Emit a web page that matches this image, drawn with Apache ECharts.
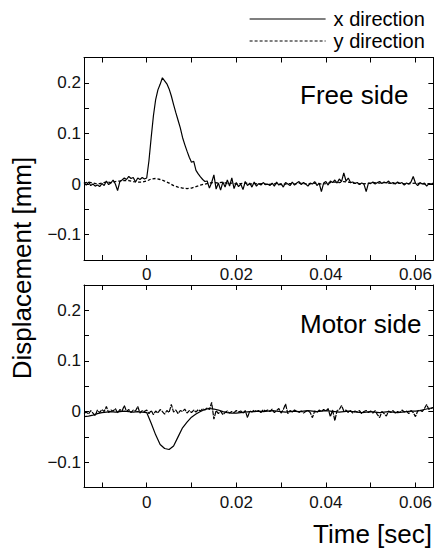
<!DOCTYPE html>
<html>
<head>
<meta charset="utf-8">
<script src="https://cdn.jsdelivr.net/npm/echarts@6/dist/echarts.min.js"></script>
<style>
html,body{margin:0;padding:0;background:#fff;}
#chart{width:435px;height:553px;}
</style>
</head>
<body>
<div id="chart"></div>
<script>
// ---- data (time in seconds, displacement in mm) ----
var timeFine = [
-0.014,-0.0135,-0.013,-0.0125,-0.012,-0.0115,-0.011,-0.0105,-0.01,-0.0095,
-0.009,-0.0085,-0.008,-0.0075,-0.007,-0.0065,-0.006,-0.0055,-0.005,-0.0045,
-0.004,-0.0035,-0.003,-0.0025,-0.002,-0.0015,-0.001,-0.0005,0,0.0005,
0.001,0.0015,0.002,0.0025,0.003,0.0035,0.004,0.0045,0.005,0.0055,
0.006,0.0065,0.007,0.0075,0.008,0.0085,0.009,0.0095,0.01,0.0105,
0.011,0.0115,0.012,0.0125,0.013,0.0135,0.014,0.0145,0.015,0.0155,
0.016,0.0165,0.017,0.0175,0.018,0.0185,0.019,0.0195,0.02,0.0205,
0.021,0.0215,0.022,0.0225,0.023,0.0235,0.024,0.0245,0.025,0.0255,
0.026,0.0265,0.027,0.0275,0.028,0.0285,0.029,0.0295,0.03,0.0305,
0.031,0.0315,0.032,0.0325,0.033,0.0335,0.034,0.0345,0.035,0.0355,
0.036,0.0365,0.037,0.0375,0.038,0.0385,0.039,0.0395,0.04,0.0405,
0.041,0.0415,0.042,0.0425,0.043,0.0435,0.044,0.0445,0.045,0.0455,
0.046,0.0465,0.047,0.0475,0.048,0.0485,0.049,0.0495,0.05,0.0505,
0.051,0.0515,0.052,0.0525,0.053,0.0535,0.054,0.0545,0.055,0.0555,
0.056,0.0565,0.057,0.0575,0.058,0.0585,0.059,0.0595,0.06,0.0605,
0.061,0.0615,0.062,0.0625,0.063,0.0635,0.064
];
var timeCoarse = [
-0.014,-0.013,-0.012,-0.011,-0.01,-0.009,-0.008,-0.007,-0.006,-0.005,
-0.004,-0.003,-0.002,-0.001,0,0.001,0.002,0.003,0.004,0.005,
0.006,0.007,0.008,0.009,0.01,0.011,0.012,0.013,0.014,0.015,
0.016,0.017,0.018,0.019,0.02,0.021,0.022,0.023,0.024,0.025,
0.026,0.027,0.028,0.029,0.03,0.031,0.032,0.033,0.034,0.035,
0.036,0.037,0.038,0.039,0.04,0.041,0.042,0.043,0.044,0.045,
0.046,0.047,0.048,0.049,0.05,0.051,0.052,0.053,0.054,0.055,
0.056,0.057,0.058,0.059,0.06,0.061,0.062,0.063,0.064
];
// Free side, x direction (fine sampling)
var freeX = [
0.003,-0.002,0.004,-0.003,0.000,-0.004,-0.002,-0.005,0.001,-0.003,
0.006,-0.001,0.002,0.008,0.000,-0.013,0.005,0.008,0.012,0.009,
0.015,0.011,0.013,0.004,0.012,0.009,0.013,0.010,0.012,0.046,
0.092,0.135,0.167,0.186,0.197,0.210,0.204,0.198,0.188,0.174,
0.157,0.141,0.126,0.111,0.092,0.078,0.065,0.053,0.043,0.045,
0.027,0.020,0.014,0.009,0.005,0.006,-0.008,0.003,0.018,-0.010,
0.002,-0.012,0.004,-0.006,0.008,-0.004,0.012,-0.009,0.003,-0.005,
0.000,-0.011,0.005,-0.003,0.002,-0.006,0.004,-0.004,0.001,-0.002,
0.003,-0.001,0.000,-0.003,0.002,-0.004,0.004,-0.002,0.001,-0.006,
0.003,0.000,-0.003,0.004,-0.002,0.002,0.005,-0.001,0.003,0.000,
-0.004,0.002,0.000,0.005,-0.003,0.002,-0.015,0.002,0.005,-0.002,
0.006,0.003,0.008,0.002,0.010,0.005,0.022,0.006,0.012,0.003,
0.004,0.001,0.003,-0.001,0.002,0.000,-0.015,0.002,0.001,0.004,
0.000,0.003,0.005,0.001,0.004,0.002,0.006,0.001,0.003,0.000,
0.004,0.001,0.003,-0.002,0.002,0.000,0.004,0.015,0.002,-0.003,
0.003,0.000,0.002,-0.004,0.001,0.000,0.002
];
// Free side, y direction (coarse sampling)
var freeY = [
0.002,0.004,0.002,0.000,0.002,0.004,0.003,0.005,0.006,0.007,
0.007,0.005,0.004,0.004,0.006,0.010,0.011,0.009,0.006,0.002,
-0.003,-0.006,-0.008,-0.009,-0.008,-0.005,-0.002,0.000,0.002,0.003,
0.002,0.004,0.001,0.002,0.000,0.001,0.002,0.000,0.001,0.000,
0.001,-0.001,0.000,0.001,-0.001,0.000,0.001,0.000,0.002,0.001,
0.000,0.001,0.002,0.000,0.001,0.003,0.004,0.003,0.005,0.004,
0.002,0.001,0.000,0.001,0.002,0.003,0.002,0.003,0.002,0.001,
0.002,0.001,0.000,0.001,0.002,0.001,0.000,0.001,0.001
];
// Motor side, x direction (coarse sampling)
var motorX = [
-0.010,-0.009,-0.007,-0.004,-0.002,-0.001,0.000,-0.001,0.000,0.001,
0.000,-0.001,0.000,-0.001,-0.002,-0.023,-0.046,-0.065,-0.073,-0.075,
-0.068,-0.050,-0.032,-0.021,-0.011,-0.005,0.000,0.004,0.006,0.005,
0.003,0.000,-0.002,-0.003,-0.003,-0.002,-0.001,0.000,0.000,0.001,
0.000,0.001,0.002,0.001,0.000,-0.001,0.000,0.001,0.000,0.001,
0.002,0.001,0.000,0.001,0.002,0.001,0.000,-0.001,0.000,0.001,
0.000,-0.001,-0.002,-0.001,0.000,-0.001,-0.002,-0.001,0.000,-0.001,
-0.002,-0.001,0.000,0.001,0.001,0.002,0.004,0.006,0.008
];
// Motor side, y direction (fine sampling)
var motorY = [
-0.004,-0.001,-0.005,0.002,-0.003,-0.008,0.003,-0.002,0.004,0.000,
0.010,-0.002,0.003,0.001,0.006,-0.003,0.004,0.001,0.012,0.000,
0.004,-0.002,0.003,0.001,0.010,-0.003,0.002,0.000,0.003,-0.004,
0.002,-0.006,0.001,-0.003,0.004,0.000,-0.005,0.002,-0.002,0.014,
-0.001,0.003,-0.004,0.002,0.000,0.005,-0.003,0.002,-0.002,0.003,
-0.001,0.004,0.001,0.006,0.003,0.008,0.004,0.018,-0.015,0.002,
-0.004,0.001,-0.006,-0.002,0.001,-0.003,0.000,-0.002,0.002,-0.001,
0.001,-0.003,0.002,-0.012,0.001,-0.001,0.003,0.000,0.002,-0.002,
0.004,0.001,0.003,0.000,0.005,-0.002,0.002,0.006,-0.003,0.004,
0.015,-0.004,0.002,-0.001,0.003,0.000,-0.002,0.001,-0.003,0.000,
0.002,-0.002,-0.012,0.001,-0.002,0.003,0.000,0.004,0.001,0.006,
-0.010,0.003,-0.018,0.002,0.004,0.012,0.001,0.003,-0.002,0.002,
-0.003,0.001,-0.001,0.002,-0.004,0.000,0.002,-0.002,0.001,-0.003,
0.002,-0.006,-0.012,0.000,-0.004,-0.009,0.001,-0.002,0.002,-0.003,
0.000,-0.002,0.003,-0.001,0.001,-0.004,0.002,-0.002,-0.010,0.001,
0.003,0.000,0.006,0.014,0.004,0.006,0.008
];
var xTickValues = [-0.01,0,0.01,0.02,0.03,0.04,0.05,0.06];
var xLabelValues = [0,0.02,0.04,0.06];
var yLabelValues = [-0.1,0,0.1,0.2];
var panelTitles = ['Free side','Motor side'];
var seriesNames = ['x direction','y direction'];

function pairs(ts, vs){ return ts.map(function(t,i){ return [t, vs[i]]; }); }

var FONT = '"Liberation Sans", Arial, sans-serif';
var INK = '#000';

function xAxisDef(gridIndex, pos, showLabel){
  return {
    type:'value', gridIndex:gridIndex, position:pos,
    min:-0.014, max:0.064,
    axisLine:{show:true, onZero:false, lineStyle:{color:INK, width:1}},
    axisTick:{show:true, inside:true, length:5, customValues:xTickValues, lineStyle:{color:INK, width:1}},
    axisLabel:{show:showLabel, customValues:xLabelValues, margin:6, color:'#111', fontSize:17, fontFamily:FONT,
      formatter:function(v){ return v===0 ? '0' : String(+v.toFixed(2)); }},
    splitLine:{show:false}
  };
}
function yAxisDef(gridIndex, pos, showLabel){
  return {
    type:'value', gridIndex:gridIndex, position:pos,
    min:-0.15, max:0.25, interval:0.05,
    axisLine:{show:true, onZero:false, lineStyle:{color:INK, width:1}},
    axisTick:{show:true, inside:true, length:5, lineStyle:{color:INK, width:1}},
    axisLabel:{show:showLabel, customValues:yLabelValues, margin:3, color:'#111', fontSize:17, fontFamily:FONT,
      formatter:function(v){ var r = +v.toFixed(2); return r===0 ? '0' : (r<0 ? '\u2212'+Math.abs(r) : String(r)); }},
    splitLine:{show:false}
  };
}

function lineSeries(name, xi, ts, vs, w, dash, z){
  return {name:name, type:'line', xAxisIndex:xi, yAxisIndex:xi, data:pairs(ts, vs),
    showSymbol:false, symbol:'none', itemStyle:{color:INK}, color:INK,
    lineStyle:{color:INK, width:w, type:dash}, z:z, emphasis:{disabled:true}};
}

var chart = echarts.init(document.getElementById('chart'), null, {renderer:'svg', width:435, height:553});
chart.setOption({
  animation:false,
  backgroundColor:'#fff',
  color:[INK, INK],
  grid:[
    {left:84, top:57.5, width:350, height:202.5},
    {left:84, top:285, width:350, height:202.5}
  ],
  xAxis:[ xAxisDef(0,'bottom',true), xAxisDef(0,'top',false), xAxisDef(1,'bottom',true), xAxisDef(1,'top',false) ],
  yAxis:[ yAxisDef(0,'left',true), yAxisDef(0,'right',false), yAxisDef(1,'left',true), yAxisDef(1,'right',false) ],
  legend:{
    data:seriesNames, orient:'vertical', left:249, top:9, padding:0,
    itemWidth:76, itemHeight:20, itemGap:2, selectedMode:false,
    itemStyle:{opacity:0, color:'rgba(0,0,0,0)', borderWidth:0},
    lineStyle:{width:1.2, color:INK},
    textStyle:{fontSize:20, color:INK, fontFamily:FONT, padding:[0,0,0,3]}
  },
  series:[
    lineSeries(seriesNames[1], 0, timeCoarse, freeY, 1.3, [3,2], 2),
    lineSeries(seriesNames[0], 0, timeFine, freeX, 1.2, 'solid', 3),
    lineSeries(seriesNames[1], 2, timeFine, motorY, 1.2, [5,1], 2),
    lineSeries(seriesNames[0], 2, timeCoarse, motorX, 1.2, 'solid', 3)
  ],
  graphic:[
    {type:'text', left:300, top:82, style:{text:panelTitles[0], font:'26px '+FONT, fill:INK}},
    {type:'text', left:300, top:311, style:{text:panelTitles[1], font:'26px '+FONT, fill:INK}},
    {type:'text', x:22, y:268, rotation:Math.PI/2,
      style:{text:'Displacement [mm]', font:'26px '+FONT, fill:INK, align:'center', verticalAlign:'middle'}},
    {type:'text', x:432, y:534,
      style:{text:'Time [sec]', font:'26px '+FONT, fill:INK, align:'right', verticalAlign:'middle'}}
  ]
});
</script>
</body>
</html>
